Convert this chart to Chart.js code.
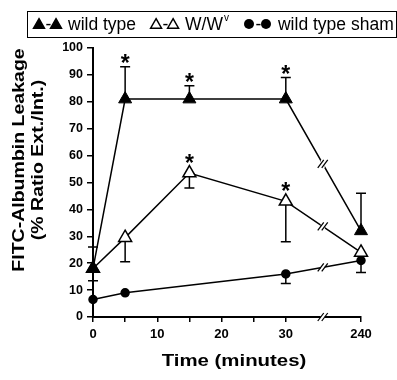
<!DOCTYPE html>
<html>
<head>
<meta charset="utf-8">
<script src="https://cdn.jsdelivr.net/npm/chart.js@4.4.0/dist/chart.umd.min.js"></script>
<style>
  html, body { margin: 0; padding: 0; background: #fff; }
  canvas { display: block; }
</style>
</head>
<body>
<canvas id="chart" width="397" height="380"></canvas>
<script>
// time points (minutes); 240 sits after a broken axis
const times = [0, 5, 15, 30, 240];
const xTickValues = [0, 5, 10, 15, 20, 25, 30, 240];
const xTickLabels = ["0", "", "10", "", "20", "", "30", "240"];

const wildType = [18, 81, 81, 81, 32];
const wildTypeErrUp = [8, 12, 5, 8, 14];
const wildTypeStars = [0, 1, 1, 1, 0];

const wwv = [18, 29.5, 53.5, 43, 24];
const wwvErrDown = [4.5, 9, 5.5, 15, 0];
const wwvStars = [0, 0, 1, 1, 0];

const sham = [6.5, 9, null, 16, 21];
const shamErrDown = [0, 0, 0, 3.5, 4.5];

// axis break: everything after 30 min is drawn at one slot
const breakAfter = 30;
const breakSlot = 41.7;
const breakMarkAt = 35.75;

const FONT = "'Liberation Sans', Arial, sans-serif";

function axisPos(t) {
  return t > breakAfter ? breakSlot : t;
}

function points(values) {
  return times.map((t, i) => ({ x: axisPos(t), y: values[i] }));
}

function drawTriangle(ctx, cx, cy, r, fill) {
  const h = r * 1.5;
  const w = r * Math.sqrt(3);
  ctx.beginPath();
  ctx.moveTo(cx, cy - h * 2 / 3);
  ctx.lineTo(cx + w / 2, cy + h / 3);
  ctx.lineTo(cx - w / 2, cy + h / 3);
  ctx.closePath();
  ctx.fillStyle = fill ? "#000" : "#fff";
  ctx.fill();
  ctx.lineWidth = 1.5;
  ctx.strokeStyle = "#000";
  ctx.stroke();
}

function drawDot(ctx, cx, cy, r) {
  ctx.beginPath();
  ctx.arc(cx, cy, r, 0, Math.PI * 2);
  ctx.fillStyle = "#000";
  ctx.fill();
}

function stretchedText(ctx, text, x, y, sx) {
  ctx.save();
  ctx.translate(x, y);
  ctx.scale(sx, 1);
  ctx.fillText(text, 0, 0);
  ctx.restore();
}

function breakMark(ctx, x, y) {
  ctx.save();
  ctx.fillStyle = "#fff";
  ctx.fillRect(x - 2, y - 4, 4, 8);
  ctx.strokeStyle = "#000";
  ctx.lineWidth = 1.2;
  [-2, 2].forEach((dx) => {
    ctx.beginPath();
    ctx.moveTo(x + dx - 3, y + 4);
    ctx.lineTo(x + dx + 3, y - 4);
    ctx.stroke();
  });
  ctx.restore();
}

const extras = {
  id: "extras",
  beforeDatasetsDraw(chart) {
    const { ctx, scales: { x, y } } = chart;
    ctx.save();
    ctx.strokeStyle = "#000";
    ctx.lineWidth = 1.5;
    chart.data.datasets.forEach((ds) => {
      ds.data.forEach((p, i) => {
        if (p.y == null) return;
        const px = x.getPixelForValue(p.x);
        const up = ds.errUp ? ds.errUp[i] : 0;
        const down = ds.errDown ? ds.errDown[i] : 0;
        [up, -down].forEach((e) => {
          if (!e) return;
          const py0 = y.getPixelForValue(p.y);
          const py1 = y.getPixelForValue(p.y + e);
          ctx.beginPath();
          ctx.moveTo(px, py0);
          ctx.lineTo(px, py1);
          ctx.moveTo(px - 5, py1);
          ctx.lineTo(px + 5, py1);
          ctx.stroke();
        });
      });
    });
    ctx.restore();
  },
  afterDatasetsDraw(chart) {
    const { ctx, scales: { x, y } } = chart;
    ctx.save();
    // breaks on the lines between 30 and 240
    chart.data.datasets.forEach((ds) => {
      const a = ds.data[3], b = ds.data[4];
      const t = (breakMarkAt - a.x) / (b.x - a.x);
      breakMark(ctx, x.getPixelForValue(breakMarkAt), y.getPixelForValue(a.y + (b.y - a.y) * t));
    });
    // significance stars
    ctx.fillStyle = "#000";
    ctx.font = "bold 23px " + FONT;
    ctx.textAlign = "center";
    ctx.textBaseline = "alphabetic";
    chart.data.datasets.forEach((ds) => {
      if (!ds.stars) return;
      ds.data.forEach((p, i) => {
        if (!ds.stars[i]) return;
        const up = ds.errUp ? ds.errUp[i] : 0;
        const top = up ? y.getPixelForValue(p.y + up) : y.getPixelForValue(p.y) - 6;
        ctx.fillText("*", x.getPixelForValue(p.x), top + 4);
      });
    });
    ctx.restore();
  },
  afterDraw(chart) {
    const { ctx, scales: { x }, chartArea } = chart;
    ctx.save();
    // break on the x axis
    breakMark(ctx, x.getPixelForValue(breakMarkAt), chartArea.bottom);

    // axis titles
    ctx.fillStyle = "#000";
    ctx.textAlign = "center";
    ctx.textBaseline = "middle";
    ctx.font = "bold 17px " + FONT;
    stretchedText(ctx, "Time (minutes)", 234, 361, 1.2);
    ctx.save();
    ctx.translate(0, 160);
    ctx.rotate(-Math.PI / 2);
    ctx.font = "bold 16px " + FONT;
    stretchedText(ctx, "FITC-Albumbin Leakage", 0, 20, 1.22);
    stretchedText(ctx, "(% Ratio Ext./Int.)", 0, 39, 1.22);
    ctx.restore();

    // legend box
    ctx.lineWidth = 1;
    ctx.strokeStyle = "#000";
    ctx.strokeRect(27.5, 11.5, 369, 26);
    const legendFont = "17.5px " + FONT;
    ctx.font = legendFont;
    ctx.textAlign = "left";
    ctx.textBaseline = "alphabetic";
    const cy = 24;
    const items = [
      { label: "wild type", mark: (cx) => drawTriangle(ctx, cx, cy + 1, 6.3, true) },
      { label: "W/W", sup: "v", mark: (cx) => drawTriangle(ctx, cx, cy + 1, 6.3, false) },
      { label: "wild type sham", mark: (cx) => drawDot(ctx, cx, cy, 5) },
    ];
    let lx = 33;
    items.forEach((it) => {
      it.mark(lx + 6);
      ctx.fillStyle = "#000";
      ctx.fillText("-", lx + 12.5, 30);
      it.mark(lx + 23);
      let tx = lx + 35;
      ctx.fillStyle = "#000";
      ctx.fillText(it.label, tx, 30);
      tx += ctx.measureText(it.label).width;
      if (it.sup) {
        ctx.font = "10px " + FONT;
        ctx.fillText(it.sup, tx + 1, 21);
        tx += ctx.measureText(it.sup).width + 1;
        ctx.font = legendFont;
      }
      lx = tx + 14;
    });
    ctx.restore();
  },
};

new Chart(document.getElementById("chart"), {
  type: "line",
  data: {
    datasets: [
      {
        label: "wild type",
        data: points(wildType),
        errUp: wildTypeErrUp,
        stars: wildTypeStars,
        borderColor: "#000",
        borderWidth: 1.5,
        pointStyle: "triangle",
        pointRadius: 7.5,
        pointBackgroundColor: "#000",
        pointBorderColor: "#000",
        pointBorderWidth: 1,
      },
      {
        label: "W/Wv",
        data: points(wwv),
        errDown: wwvErrDown,
        stars: wwvStars,
        borderColor: "#000",
        borderWidth: 1.5,
        pointStyle: "triangle",
        pointRadius: 7.5,
        pointBackgroundColor: "#fff",
        pointBorderColor: "#000",
        pointBorderWidth: 1.5,
      },
      {
        label: "wild type sham",
        data: points(sham),
        errDown: shamErrDown,
        spanGaps: true,
        borderColor: "#000",
        borderWidth: 1.5,
        pointStyle: "circle",
        pointRadius: 4,
        pointBackgroundColor: "#000",
        pointBorderColor: "#000",
      },
    ],
  },
  options: {
    responsive: false,
    animation: false,
    devicePixelRatio: 1,
    clip: false,
    layout: { padding: { top: 48, right: 36, left: 0, bottom: 0 } },
    plugins: {
      legend: { display: false },
      tooltip: { enabled: false },
    },
    scales: {
      x: {
        type: "linear",
        min: 0,
        max: breakSlot,
        afterBuildTicks: (s) => {
          s.ticks = xTickValues.map((v) => ({ value: axisPos(v) }));
        },
        afterFit: (s) => { s.height = 63; },
        ticks: {
          autoSkip: false,
          maxRotation: 0,
          color: "#000",
          padding: 5,
          font: { family: FONT, size: 13, weight: "bold" },
          callback: (v, i) => xTickLabels[i],
        },
        grid: { drawOnChartArea: false, tickLength: 5, color: "#000", lineWidth: 1.5 },
        border: { color: "#000", width: 2 },
      },
      y: {
        min: 0,
        max: 100,
        afterFit: (s) => { s.width = 93; },
        ticks: {
          stepSize: 10,
          color: "#000",
          padding: 4,
          font: { family: FONT, size: 12.5, weight: "bold" },
        },
        grid: { drawOnChartArea: false, tickLength: 6, color: "#000", lineWidth: 1.5 },
        border: { color: "#000", width: 2 },
      },
    },
  },
  plugins: [extras],
});
</script>
</body>
</html>
